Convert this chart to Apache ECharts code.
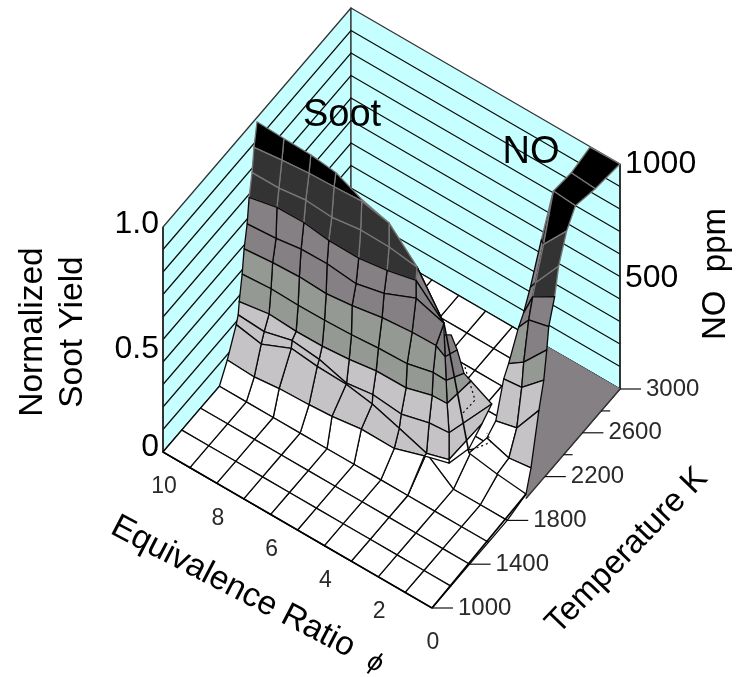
<!DOCTYPE html>
<html><head><meta charset="utf-8">
<style>html,body{margin:0;padding:0;background:#fff}#c{width:736px;height:677px}</style>
<script src="https://cdn.jsdelivr.net/npm/echarts@6/dist/echarts.min.js"></script>
</head><body><div id="c"></div>
<script>
// ---- data ----
const phiTicks = [0, 2, 4, 6, 8, 10];
const tempTicks = [1000, 1400, 1800, 2200, 2600, 3000];
const tempMinorTicks = [2400, 2800];
const sootTicks = [[0, "0", -5], [0.5, "0.5", 10], [1, "1.0", -3]];
const noTicks = [[0.5, "500", 2], [1, "1000", 0]];
const wallLevels = [0.1, 0.2, 0.3, 0.4, 0.5, 0.6, 0.7, 0.8, 0.9];

// floor mesh: rows by temperature, columns by phi 0..10
const floorPhi = [0, 1, 2, 3, 4, 5, 6, 7, 8, 9, 10];
const floorT = [1000, 1200, 1400, 1600, 1800, 2000, 2200, 2400, 2600, 2800, 3000];
const floorZ = [
  [0,0,0,0,0,0,0,0,0,0,0],
  [0,0,0,0,0,0,0,0,0,0,0],
  [0,0,0,0,0,0,0,0,0,0,0],
  [0,0,0,0,0,0,0,0,0,0,0],
  [0,0,0,0.09,0,0,0,0,0,0,0],
  [0.02,0.05,0.08,0,0,0,0,0,0,0,0],
  [0,0,0,0,0,0,0,0,0,0,0],
  [0,0,0,0,0,0,0,0,0,0,0],
  [0,0,0,0,0,0,0,0,0,0,0],
  [0,0,0,0,0,0,0,0,0,0,0],
  [0,0,0,0,0,0,0,0,0,0,0]
];

// soot surface, one list per phi, rows run front to ridge
const sootPhi = [10, 9, 8, 7, 6, 5, 4, 3, 2.5, 2];
const sootT = [
  [1000,1200,1400,1600,1684,1779,1800,1811,1842,1863,1895,1916,1947,1968,2000],
  [1000,1200,1400,1600,1684,1758,1790,1842,1863,1880,1916,1926,1947,1979,2000],
  [1000,1200,1400,1600,1663,1792,1800,1844,1865,1878,1897,1926,1947,1981,2000],
  [1000,1200,1400,1600,1695,1782,1803,1835,1860,1877,1887,1905,1937,1961,1980],
  [1000,1200,1400,1600,1653,1804,1808,1836,1860,1867,1909,1937,1958,1970,1970],
  [1000,1200,1400,1600,1679,1795,1800,1837,1860,1900,1921,1953,1974,1974,1974],
  [1000,1200,1400,1600,1743,1796,1817,1869,1880,1933,1975,1975,1985,1985,1985],
  [1000,1200,1400,1600,1776,1800,1828,1860,1871,1901,1986,1986,1986,1986,1986],
  [null,null,null,null,1897,1897,1897,1876,1866,1855,1845,null,null,null,null],
  [null,null,null,null,1966,2103,2208,1987,1913,1840,1777,null,null,null,null]
];
const sootZ = [
  [0,0,0,0,0.076,0.187,0.22,0.274,0.381,0.483,0.578,0.686,0.781,0.883,0.981],
  [0,0,0,0,0.07,0.18,0.22,0.273,0.375,0.483,0.573,0.706,0.781,0.89,0.976],
  [0,0,0,0,0.098,0.214,0.245,0.264,0.37,0.49,0.604,0.708,0.797,0.9,0.973],
  [0,0,0,0,0.08,0.208,0.229,0.272,0.375,0.485,0.613,0.708,0.795,0.919,0.973],
  [0,0,0,0,0.118,0.187,0.19,0.282,0.38,0.506,0.583,0.683,0.798,0.92,0.928],
  [0,0,0,0,0.118,0.173,0.213,0.3,0.39,0.506,0.603,0.69,0.784,0.89,0.89],
  [0,0,0,0,0.07,0.134,0.187,0.278,0.38,0.494,0.625,0.704,0.758,0.76,0.76],
  [0,0,0,0,0.09,0.09,0.212,0.318,0.415,0.52,0.578,0.578,0.578,0.578,0.578],
  [null,null,null,null,0.034,0.05,0.169,0.309,0.417,0.527,0.629,null,null,null,null],
  [null,null,null,null,0.1,0.143,0.18,0.39,0.46,0.599,0.697,null,null,null,null]
];

// NO surface, phi 0..2
const noPhi = [0, 1, 2];
const noT = [
  [2000,2053,2137,2189,2221,2242,2305,2347,2432,2526,2737,3000],
  [1978,2104,2188,2241,2262,2315,2357,2388,2473,2578,2767,2967],
  [1966,2156,2251,2335,2387,2493,2545,2619,2735,2861,null,null]
];
const noZ = [
  [0.02,0.11,0.325,0.434,0.553,0.646,0.749,0.863,0.978,1.045,1.018,1],
  [0.05,0.06,0.153,0.307,0.409,0.571,0.653,0.701,0.83,1.016,1.005,1.022],
  [0.08,0.054,0.084,0.23,0.272,0.382,0.419,0.499,0.653,0.807,null,null]
];

// floor patch seen beneath the NO surface, the steep soot edge, dotted hidden-line bits
const underPatch = [[0, 2000, 0], [0, 3000, 0], [2.7, 3000, 0]];
const sootEdge = [[3, 1986, 0.578], [2, 1966, 0.08]];
const dottedA = [[2, 1998, 0.078], [2, 2200, 0.015], [2, 2157, 0.076]];
const dottedB = [[2, 1923, 0.483], [2, 2030, 0.284], [2, 1902, 0.289]];

// ---- projection from (phi, T, level) to plot units ----
function project(phi, T, z) {
  const d = T - 1000;
  return [432 - 26.9 * phi + 0.094 * d, 608 - 15.6 * phi - 0.1095 * d - 225 * z];
}
const CYAN = '#c6ffff', WHITE = '#ffffff', LIGHT = '#c6c3c6', GREEN = '#949994', GRAY = '#848084', DARK = '#333333', BLACK = '#000000';
const LW = 1.3;
function band(m) {
  if (m < 0.09) return WHITE;
  if (m < 0.31) return LIGHT;
  if (m < 0.49) return GREEN;
  if (m < 0.68) return GRAY;
  if (m < 0.91) return DARK;
  return BLACK;
}
function meshCell(pts) {
  const m = pts.reduce((s, p) => s + p[2], 0) / pts.length;
  const fill = band(m);
  const stroke = (fill === DARK || fill === BLACK) ? '#777777' : '#0a0a0a';
  return { kind: 'poly', pts, fill, stroke, lw: LW };
}

const items = [];
// walls
items.push({ kind: 'poly', pts: [[10,1000,0],[10,3000,0],[10,3000,1],[10,1000,1]], fill: CYAN, stroke: '#333333', lw: LW });
items.push({ kind: 'poly', pts: [[10,3000,0],[0,3000,0],[0,3000,1],[10,3000,1]], fill: CYAN, stroke: '#333333', lw: LW });
wallLevels.forEach(l => {
  items.push({ kind: 'line', pts: [[10,1000,l],[10,3000,l],[0,3000,l]], stroke: '#0a0a0a', lw: 1.2 });
});
// axes verticals
items.push({ kind: 'line', pts: [[10,1000,0],[10,1000,1]], stroke: '#222222', lw: 1.6 });
items.push({ kind: 'line', pts: [[0,3000,0],[0,3000,1]], stroke: '#222222', lw: 1.6 });
// floor
for (let r = floorT.length - 2; r >= 0; r--) {
  for (let c = 0; c < floorPhi.length - 1; c++) {
    items.push({ kind: 'poly', fill: WHITE, stroke: '#0a0a0a', lw: LW, pts: [
      [floorPhi[c], floorT[r], floorZ[r][c]], [floorPhi[c+1], floorT[r], floorZ[r][c+1]],
      [floorPhi[c+1], floorT[r+1], floorZ[r+1][c+1]], [floorPhi[c], floorT[r+1], floorZ[r+1][c]]] });
  }
}
items.push({ kind: 'poly', pts: underPatch, fill: GRAY, stroke: GRAY, lw: 1 });
// NO strip
for (let r = noT[0].length - 2; r >= 0; r--) {
  for (let c = noPhi.length - 2; c >= 0; c--) {
    if (noT[c+1][r+1] == null) continue;
    items.push(meshCell([
      [noPhi[c], noT[c][r], noZ[c][r]], [noPhi[c+1], noT[c+1][r], noZ[c+1][r]],
      [noPhi[c+1], noT[c+1][r+1], noZ[c+1][r+1]], [noPhi[c], noT[c][r+1], noZ[c][r+1]]]));
  }
}
// soot
for (let r = sootT[0].length - 2; r >= 0; r--) {
  for (let c = sootPhi.length - 2; c >= 0; c--) {
    if (sootT[c][r] == null || sootT[c+1][r] == null || sootT[c][r+1] == null || sootT[c+1][r+1] == null) continue;
    items.push(meshCell([
      [sootPhi[c], sootT[c][r], sootZ[c][r]], [sootPhi[c+1], sootT[c+1][r], sootZ[c+1][r]],
      [sootPhi[c+1], sootT[c+1][r+1], sootZ[c+1][r+1]], [sootPhi[c], sootT[c][r+1], sootZ[c][r+1]]]));
  }
}
items.push({ kind: 'line', pts: sootEdge, stroke: '#0a0a0a', lw: 1.6 });
items.push({ kind: 'line', pts: dottedA, stroke: '#0a0a0a', lw: 1.2, dash: [2, 3] });
items.push({ kind: 'line', pts: dottedB, stroke: '#0a0a0a', lw: 1.2, dash: [2, 3] });
// front edges
items.push({ kind: 'line', pts: [[0,1000,0],[0,2000,0.02]], stroke: '#000000', lw: 1.8 });
items.push({ kind: 'line', pts: [[0,2000,0],[0,3000,0]], stroke: '#333333', lw: 1.3 });
items.push({ kind: 'line', pts: [[0,1000,0],[10,1000,0]], stroke: '#000000', lw: 1.5 });

// ticks and labels
const FONT = '"Liberation Sans", Arial, sans-serif';
tempTicks.forEach(t => {
  items.push({ kind: 'tick', at: [0, t, 0], len: 21, stroke: '#111111' });
  items.push({ kind: 'text', at: [0, t, 0], dx: 26, dy: 0, text: String(t), size: 24, align: 'left', fill: '#2a2a2a' });
});
tempMinorTicks.forEach(t => items.push({ kind: 'tick', at: [0, t, 0], len: 9, stroke: '#111111' }));
phiTicks.forEach(p => items.push({ kind: 'text', at: [p, 1000, 0], dx: 1, dy: 35, text: String(p), size: 23, align: 'center', fill: '#2a2a2a' }));
sootTicks.forEach(s => items.push({ kind: 'text', at: [10, 1000, s[0]], dx: -4, dy: s[2], text: s[1], size: 32, align: 'right', fill: '#000000' }));
noTicks.forEach(s => items.push({ kind: 'text', at: [0, 3000, s[0]], dx: 5, dy: s[2], text: s[1], size: 32, align: 'left', fill: '#000000' }));
// titles positioned in plot units
const titles = [
  { text: 'Soot', x: 342, y: 116, size: 38, rot: 0 },
  { text: 'NO', x: 531, y: 153, size: 38, rot: 0 },
  { text: 'Normalized', x: 33, y: 332, size: 33.5, rot: 90 },
  { text: 'Soot Yield', x: 73, y: 332, size: 33.5, rot: 90 },
  { text: 'NO  ppm', x: 716, y: 274, size: 33, rot: 90 },
  { text: 'Temperature K', x: 627, y: 551, size: 33, rot: 46 },
  { text: 'Equivalence Ratio', x: 233, y: 587, size: 33.5, rot: -27.5 },
  { text: '\u03d5', x: 375, y: 663, size: 26, rot: -25, italic: true }
];
titles.forEach(t => items.push(Object.assign({ kind: 'title' }, t)));

function renderItem(params, api) {
  const it = items[api.value(0)];
  const xy = p => api.coord(project(p[0], p[1], p[2]));
  if (it.kind === 'poly') {
    return { type: 'polygon', silent: true, shape: { points: it.pts.map(xy) },
      style: { fill: it.fill, stroke: it.stroke, lineWidth: it.lw, lineJoin: 'round' } };
  }
  if (it.kind === 'line') {
    return { type: 'polyline', silent: true, shape: { points: it.pts.map(xy) },
      style: { fill: null, stroke: it.stroke, lineWidth: it.lw, lineDash: it.dash || null } };
  }
  if (it.kind === 'tick') {
    const a = xy(it.at);
    return { type: 'line', silent: true, shape: { x1: a[0], y1: a[1], x2: a[0] + it.len, y2: a[1] },
      style: { stroke: it.stroke, lineWidth: 1.2 } };
  }
  if (it.kind === 'text') {
    const a = xy(it.at);
    return { type: 'text', silent: true, x: a[0] + it.dx, y: a[1] + it.dy,
      style: { text: it.text, fill: it.fill, font: it.size + 'px ' + FONT, align: it.align, verticalAlign: 'middle' } };
  }
  const c = api.coord([it.x, it.y]);
  return { type: 'text', silent: true, x: c[0], y: c[1], rotation: it.rot * Math.PI / 180,
    style: { text: it.text, fill: '#000000', font: (it.italic ? 'italic ' : '') + it.size + 'px ' + FONT, align: 'center', verticalAlign: 'middle' } };
}

const chart = echarts.init(document.getElementById('c'), null, { renderer: 'canvas' });
chart.setOption({
  animation: false,
  backgroundColor: '#ffffff',
  grid: { left: 0, right: 0, top: 0, bottom: 0 },
  xAxis: { type: 'value', min: 0, max: 736, show: false },
  yAxis: { type: 'value', min: 0, max: 677, inverse: true, show: false },
  series: [{
    type: 'custom', renderItem, clip: false, silent: true,
    encode: { x: 0, y: 1 },
    data: items.map((_, i) => [i, 0])
  }]
});
</script></body></html>
